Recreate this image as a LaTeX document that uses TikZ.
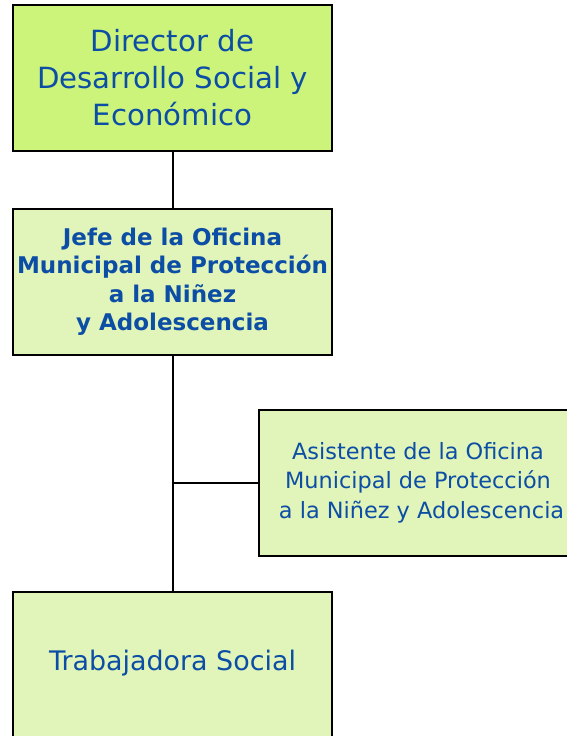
\documentclass[tikz,border=0pt]{standalone}
\usepackage{fontspec}
\setmainfont{DejaVu Sans}
\usetikzlibrary{positioning}
\definecolor{limefill}{RGB}{204,244,122}
\definecolor{palefill}{RGB}{225,244,185}
\definecolor{textblue}{RGB}{12,78,165}
\tikzstyle{orgbox}=[rectangle,draw=black,line width=2pt,minimum width=319pt,minimum height=146pt,align=center,text=textblue,inner sep=0]
\tikzstyle{link}=[line width=2pt]
\newcommand{\orgnode}[4]{\node[orgbox,#1] (#2) at (#3) {#4};}

\begin{document}
\begin{tikzpicture}[x=1pt,y=-1pt]
\clip (0,0) rectangle (567,736);
\orgnode{fill=limefill,font=\fontsize{29.2}{37}\selectfont}{dir}{172.5,78}{Director de\\Desarrollo Social y\\Económico}
\orgnode{fill=palefill,font=\fontsize{23}{28.5}\selectfont\bfseries}{jefe}{172.5,281.5}{Jefe de la Oficina\\Municipal de Protección\\a la Niñez\\y Adolescencia}
\orgnode{fill=palefill,font=\fontsize{22.4}{29.5}\selectfont}{asist}{418,482.5}{Asistente de la Oficina\\Municipal de Protección\\\ a la Niñez y Adolescencia}
\node[orgbox,fill=palefill] (trab) at (172.5,665) {};
\node[text=textblue,font=\fontsize{26.9}{32}\selectfont] (trabtxt) at (172.5,663) {Trabajadora Social};

\coordinate (junc) at (jefe.south |- asist.west);
\draw[link] (dir) -- (jefe);
\draw[link] (jefe) -- (trab);
\draw[link] (junc) -- (asist);
\end{tikzpicture}
\end{document}
